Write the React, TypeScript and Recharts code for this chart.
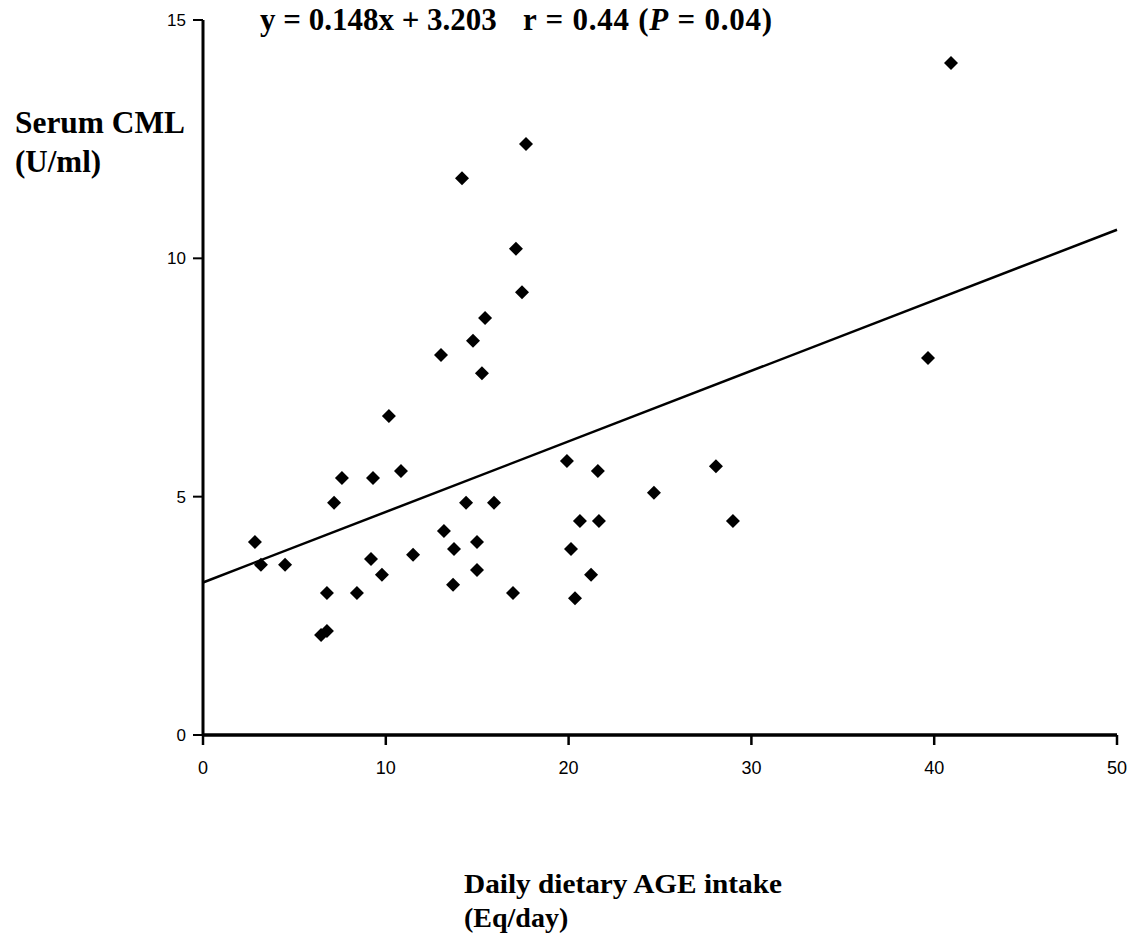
import React from 'react';
import { ScatterChart, Scatter, XAxis, YAxis } from 'recharts';

const intake: number[] = [2.84, 3.17, 4.49, 6.46, 6.78, 6.78, 7.17, 7.6, 8.42, 9.19, 9.3, 9.79, 10.17, 10.83, 11.49, 13.02, 13.18, 13.68, 13.73, 14.17, 14.39, 14.77, 14.99, 14.99, 15.26, 15.43, 15.92, 16.96, 17.12, 17.45, 17.67, 19.91, 20.13, 20.35, 20.62, 21.23, 21.6, 21.66, 24.67, 28.06, 28.99, 39.66, 40.92];
const cml: number[] = [4.05, 3.57, 3.57, 2.1, 2.18, 2.98, 4.87, 5.39, 2.98, 3.69, 5.39, 3.36, 6.69, 5.54, 3.78, 7.97, 4.28, 3.15, 3.9, 11.68, 4.87, 8.27, 4.05, 3.46, 7.59, 8.75, 4.87, 2.98, 10.2, 9.29, 12.4, 5.75, 3.9, 2.87, 4.49, 3.36, 5.54, 4.49, 5.08, 5.64, 4.49, 7.91, 14.1];
const fitX: number[] = [0, 50];
const fitY: number[] = [3.2, 10.6];
const xTicks: number[] = [0, 10, 20, 30, 40, 50];
const yTicks: number[] = [0, 5, 10, 15];

const points = intake.map((x, i) => ({ x, y: cml[i] }));
const fitLine = fitX.map((x, i) => ({ x, y: fitY[i] }));

const Diamond = (props: any) => {
  const { cx, cy } = props;
  if (cx == null || cy == null) return <g />;
  const w = 7;
  const h = 7;
  return <polygon points={`${cx},${cy - h} ${cx + w},${cy} ${cx},${cy + h} ${cx - w},${cy}`} fill="#000" />;
};

const NoShape = () => <g />;

const serif = '"Liberation Serif", "Times New Roman", serif';
const sans = '"Liberation Sans", Arial, sans-serif';

export default function App() {
  return (
    <div style={{ position: 'absolute', left: 0, top: 0, width: 1132, height: 936, background: '#fff' }}>
      <ScatterChart width={1132} height={936} margin={{ top: 20, right: 15, bottom: 171, left: 143 }}>
        <XAxis
          type="number"
          dataKey="x"
          domain={[0, 50]}
          ticks={xTicks}
          interval={0}
          axisLine={{ stroke: '#000', strokeWidth: 3.5 }}
          tickLine={{ stroke: '#000', strokeWidth: 2.5 }}
          tickSize={10}
          tick={{ fill: '#000', fontSize: 18, fontFamily: sans }}
          tickMargin={16}
          height={30}
        />
        <YAxis
          type="number"
          dataKey="y"
          domain={[0, 15]}
          ticks={yTicks}
          interval={0}
          axisLine={{ stroke: '#000', strokeWidth: 3 }}
          tickLine={{ stroke: '#000', strokeWidth: 2 }}
          tickSize={10}
          tick={{ fill: '#000', fontSize: 17, fontFamily: sans }}
          tickMargin={7}
          width={60}
        />
        <Scatter data={fitLine} line={{ stroke: '#000', strokeWidth: 2.5 }} shape={NoShape} isAnimationActive={false} />
        <Scatter data={points} shape={Diamond} isAnimationActive={false} />
      </ScatterChart>
      <svg width={1132} height={936} style={{ position: 'absolute', left: 0, top: 0, pointerEvents: 'none' }}>
        <g fontFamily={serif} fontWeight="bold" fill="#000">
          <text x={260} y={30} fontSize={31}>y = 0.148x + 3.203</text>
          <text x={523} y={30} fontSize={31} textLength={249} lengthAdjust="spacing">
            r = 0.44 (<tspan fontStyle="italic">P</tspan> = 0.04)
          </text>
          <text x={15} y={133} fontSize={31} textLength={170} lengthAdjust="spacingAndGlyphs">Serum CML</text>
          <text x={15} y={172} fontSize={31}>(U/ml)</text>
          <text x={464} y={893} fontSize={28} textLength={318} lengthAdjust="spacingAndGlyphs">Daily dietary AGE intake</text>
          <text x={464} y={927} fontSize={28}>(Eq/day)</text>
        </g>
      </svg>
    </div>
  );
}
